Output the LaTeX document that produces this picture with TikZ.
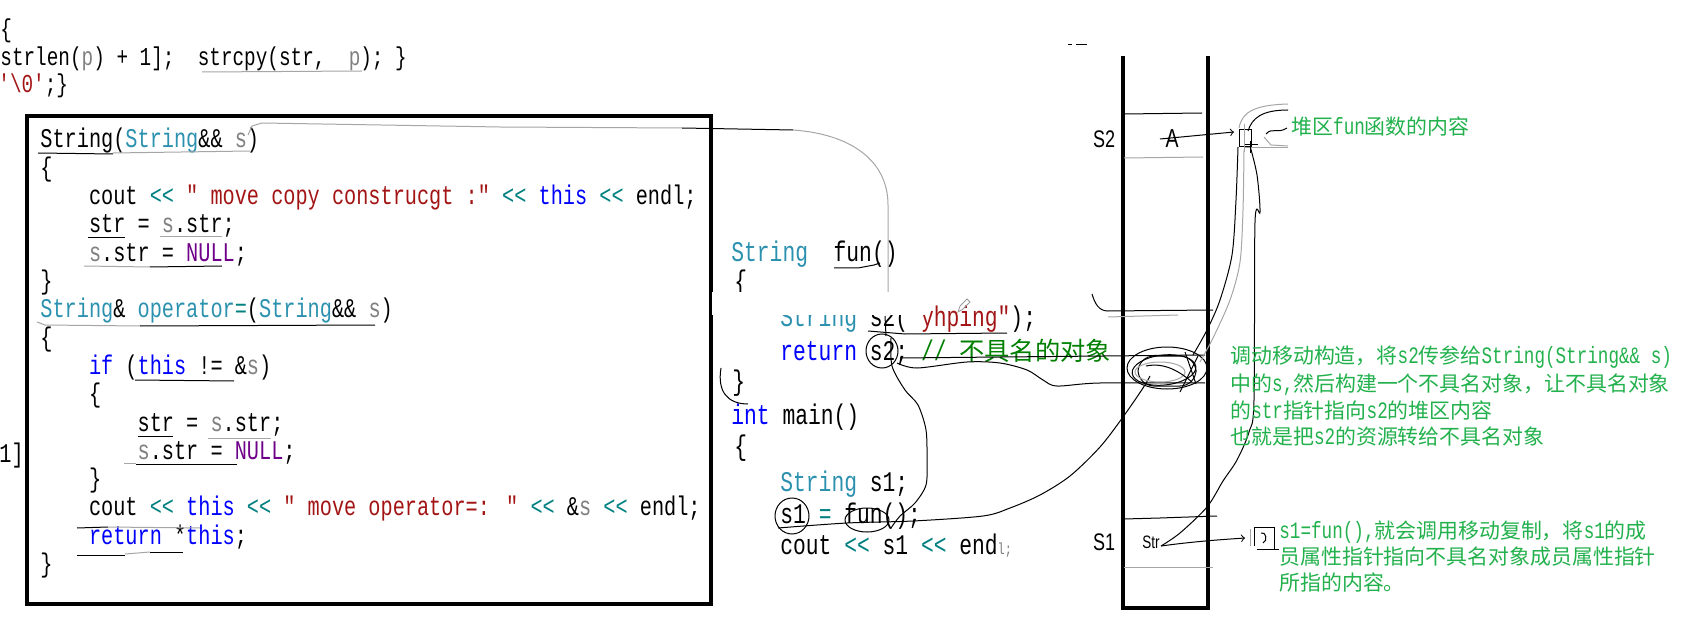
\documentclass[tikz,border=0pt]{standalone}
\usepackage{fontspec}
\usepackage{tikz}
\usetikzlibrary{calc}
\newfontfamily\codefont[FakeStretch=0.75]{Liberation Mono}
\newfontfamily\cjk[Scale=0.89]{Noto Sans CJK SC}
\newfontfamily\handfont[FakeStretch=0.75]{Liberation Sans}
\definecolor{typeclr}{RGB}{43,145,175}
\definecolor{kwclr}{RGB}{0,0,255}
\definecolor{strclr}{RGB}{163,21,21}
\definecolor{opclr}{RGB}{0,128,128}
\definecolor{parclr}{RGB}{128,128,128}
\definecolor{macclr}{RGB}{111,0,138}
\definecolor{cmtclr}{RGB}{0,128,0}
\definecolor{noteclr}{RGB}{34,177,76}
\newcommand\cType[1]{\textcolor{typeclr}{#1}}
\newcommand\cKw[1]{\textcolor{kwclr}{#1}}
\newcommand\cStr[1]{\textcolor{strclr}{#1}}
\newcommand\cOp[1]{\textcolor{opclr}{#1}}
\newcommand\cPar[1]{\textcolor{parclr}{#1}}
\newcommand\cMac[1]{\textcolor{macclr}{#1}}
\newcommand\cCmt[1]{\textcolor{cmtclr}{#1}}
\newcommand\zh[1]{{\cjk #1}}
\tikzset{
  codeline/.style={anchor=base west, inner sep=0pt, font=\codefont\fontsize{13.5}{13.5}\selectfont},
  midline/.style={codeline, font=\codefont\fontsize{14.2}{14.2}\selectfont},
  topline/.style={codeline, font=\codefont\fontsize{12.9}{12.9}\selectfont},
  noteline/.style={anchor=base west, inner sep=0pt, text=noteclr, font=\codefont\fontsize{11.75}{11.75}\selectfont},
  handlabel/.style={anchor=base, inner sep=0pt, font=\handfont\fontsize{12}{12}\selectfont},
  pen/.style={line width=0.5pt},
  pengray/.style={line width=0.5pt, draw=gray!70},
  wall/.style={line width=2pt}
}
\begin{document}
\begin{tikzpicture}[x=0.5pt, y=-0.5pt]
  \useasboundingbox (0,0) rectangle (1681,636);
  \fill[white] (0,0) rectangle (1681,636);
  \clip (0,0) rectangle (1681,636);

  % code fragment at the top left
  \node[topline] (fragOpen) at (0,38) {\{};
  \node[topline] (fragNew) at (0,66) {strlen(\cPar{p}) + 1];\ \ strcpy(str,\ \ \cPar{p}); \}};
  \node[topline] (fragEnd) at (-2,93) {\cStr{'\textbackslash 0'};\}};
  \node[codeline] (fragIdx) at (-1,462) {1]};
  \draw[pengray] (202,72) -- (362,71);

  % move constructor and move assignment
  \draw[line width=1.9pt] (27,116) rectangle (711,604);
  \node[codeline] (ctorHead) at (40,148) {String(\cType{String}\&\& \cPar{s})};
  \node[codeline] (ctorOpen) at (40,176.3) {\{};
  \node[codeline] (ctorCout) at (88.6,204.6) {cout \cOp{<<} \cStr{" move copy construcgt :"} \cOp{<<} \cKw{this} \cOp{<<} endl;};
  \node[codeline] (ctorAssign) at (88.6,232.9) {str = \cPar{s}.str;};
  \node[codeline] (ctorNull) at (88.6,261.2) {\cPar{s}.str = \cMac{NULL};};
  \node[codeline] (ctorClose) at (40,289.5) {\}};
  \node[codeline] (opHead) at (40,317.8) {\cType{String}\& \cType{operator}\cOp{=}(\cType{String}\&\& \cPar{s})};
  \node[codeline] (opOpen) at (40,346.1) {\{};
  \node[codeline] (opIf) at (88.6,374.4) {\cKw{if} (\cKw{this} != \&\cPar{s})};
  \node[codeline] (opIfOpen) at (88.6,402.7) {\{};
  \node[codeline] (opAssign) at (137.2,431) {str = \cPar{s}.str;};
  \node[codeline] (opNull) at (137.2,459.3) {\cPar{s}.str = \cMac{NULL};};
  \node[codeline] (opIfClose) at (88.6,487.6) {\}};
  \node[codeline] (opCout) at (88.6,515.9) {cout \cOp{<<} \cKw{this} \cOp{<<} \cStr{" move operator=: "} \cOp{<<} \&\cPar{s} \cOp{<<} endl;};
  \node[codeline] (opRet) at (88.6,544.2) {\cKw{return} *\cKw{this};};
  \node[codeline] (opClose) at (40,572.5) {\}};

  % pen marks under the code
  \draw[pen] (38,153) -- (113,154);
  \draw[pengray] (113,153) -- (250,151);
  \draw[pen] (88,238) -- (125,238);
  \draw[pengray] (160,237) -- (222,237);
  \draw[pengray] (84,266) -- (150,267);
  \draw[pen] (150,267) -- (222,266);
  \draw[pengray] (37,322) -- (45,325) -- (140,326);
  \draw[pen] (140,326) -- (375,325);
  \draw[pen] (135,380) -- (234,381);
  \draw[pen] (138,436) -- (173,436);
  \draw[pengray] (208,438) -- (271,438);
  \draw[pengray] (124,463) -- (136,463);
  \draw[pen] (136,464) -- (237,464);
  \draw[pen] (77,528) -- (108,527);
  \draw[pengray] (108,527) -- (200,528);
  \draw[pen] (77,555) -- (125,555);
  \draw[pengray] (125,554) -- (150,552);
  \draw[pen] (150,552) -- (183,552);

  % fun() and main()
  \node[midline] (funHead) at (731,262) {\cType{String}\ \ fun()};
  \node[midline] (funOpen) at (734,291) {\{};
  \node[midline] (funDecl) at (780,327) {\cType{String} s2(\cStr{"yhping"});};
  \node[midline] (funRet) at (780,360) {\cKw{return} s2; \cCmt{// \zh{不具名的对象}}};
  \node[midline] (funClose) at (732,390) {\}};
  \node[midline] (mainHead) at (731,424) {\cKw{int} main()};
  \node[midline] (mainOpen) at (734,455) {\{};
  \node[midline] (mainDecl) at (780,491) {\cType{String} s1;};
  \node[midline] (mainCall) at (780,523) {s1 \cOp{=} fun();};
  \node[midline] (mainCout) at (780,554) {cout \cOp{<<} s1 \cOp{<<} end{\fontsize{8}{8}\selectfont\color{gray}l;}};

  % line from the move constructor down to fun()
  \coordinate (ctorTip) at (248,135);
  \draw[pengray] (ctorTip) -- (252,126) -- (262,123) -- (500,127) -- (682,128);
  \draw[pen] (682,128) -- (793,130);
  \draw[pengray] (793,130) .. controls (850,134) and (888,160) .. (888,205) -- (888,300);
  \draw[pen] (834,268) -- (858,268) -- (874,265) -- (880,263);

  % white band over the screenshot
  \fill[white] (712,292) rectangle (930,315);
  \draw[gray!80, line width=0.4pt] (958,312) -- (960,306) -- (967,299) -- (970,302) -- (963,309) -- cycle;

  \draw[pen] (885,316) -- (886,336);
  \draw[pen] (868,331) -- (905,334) -- (1007,333);
  \draw[pen] (882,351) ellipse [x radius=16, y radius=17];
  \coordinate (funCall) at (891,528);
  \draw[pen] plot[smooth] coordinates {(891,338) (892,366) (905,390) (918,405) (926,430) (927,460) (926,485) (915,503) (900,516) (funCall)};
  \draw[pen] (721,368) .. controls (717,392) and (728,404) .. (748,404);
  \draw[pen] (792,516) ellipse [x radius=17, y radius=18];
  \draw[pen] (867,520) ellipse [x radius=22, y radius=12];

  % stack frame
  \draw[wall] (1123,56) -- (1123,608) -- (1208,608) -- (1208,56);
  \draw[pen] (1068,45) -- (1072,45) (1076,45) -- (1087,45);
  \draw[pen] (1124,114) -- (1202,113);
  \draw[pengray] (1124,158) -- (1203,157);
  \draw[pen] (1092,294) .. controls (1095,304) and (1099,311) .. (1108,311) -- (1213,310);
  \draw[pengray] (1108,317) -- (1178,315);
  \draw[pen] (1124,519) -- (1160,518) -- (1217,516);
  \draw[pengray] (1124,567) -- (1213,567);

  % unnamed object scribble
  \coordinate (retTail) at (900,358);
  \coordinate (stackMid) at (1205,355);
  \coordinate (stackLow) at (1205,383);
  \draw[pen] (retTail) -- (stackMid);
  \draw[pen] plot[smooth] coordinates {(897,363) (917,368) (967,362) (1000,363) (1027,370) (1043,380) (1057,386) (1100,383) (stackLow)};
  \draw[pen] plot[smooth] coordinates {(778,528) (847,523) (913,521) (983,516) (1010,508) (1040,495) (1070,476) (1100,447) (1123,417) (1143,388) (1150,376)};
  \draw[pen] (1167,368) ellipse [x radius=40, y radius=21];
  \draw[pen, rotate around={6:(1164,370)}] (1164,370) ellipse [x radius=32, y radius=15];
  \draw[pen, rounded corners=8pt] (1138,356) rectangle (1196,386);
  \draw[pengray] (1160,372) ellipse [x radius=25, y radius=10];
  \draw[pen] (1146,366) .. controls (1165,362) and (1180,372) .. (1192,382);
  \draw[pen] (1185,352) -- (1196,384) (1198,356) -- (1180,392);

  % s2 row and heap content
  \node[handlabel] (labS2) at (1104,148) {S2};
  \node[handlabel, font=\handfont\fontsize{13}{13}\selectfont] (labA) at (1172,148) {A};
  \coordinate (aTail) at (1160,139);
  \coordinate (heapBox) at (1234,132);
  \draw[pen,->] (aTail) -- (heapBox);
  \draw[pen] (1239,130) rectangle (1251,147);
  \draw[pengray] (1244,124) -- (1244,152);
  \draw[pen] (1245,145) -- (1258,145) (1250,141) -- (1250,153);
  \draw[pengray] (1239,128) .. controls (1242,112) and (1254,105) .. (1288,104);
  \draw[pen] (1248,131) .. controls (1252,118) and (1262,110) .. (1288,110);
  \draw[pen] (1266,134) .. controls (1272,127) and (1278,134) .. (1287,128);
  \draw[pengray] (1264,137) -- (1271,145) -- (1288,146);
  \draw[pengray] (1245,148) -- (1288,148);
  \node[noteline] (heapNote) at (1291,135) {\zh{堆区}fun\zh{函数的内容}};
  \draw[pen] plot[smooth] coordinates {(1238,147) (1236,200) (1232,255) (1220,300) (1207,330) (1193,355)};
  \draw[pengray] plot[smooth] coordinates {(1244,150) (1243,210) (1240,262) (1230,300) (1213,338) (1200,362)};

  % s1 row
  \node[handlabel] (labS1) at (1104,550) {S1};
  \node[handlabel, font=\handfont\fontsize{9}{9}\selectfont] (labStr) at (1151,548) {Str};
  \coordinate (strTail) at (1161,546);
  \coordinate (strHead) at (1245,538);
  \draw[pen,->] (strTail) .. controls (1190,542) and (1215,540) .. (strHead);
  \draw[pen] plot[smooth] coordinates {(1250,146) (1257,175) (1260,212) (1255,222) (1254,400) (1249,432) (1237,460) (1223,481) (1207,507) (1180,533) (strTail)};
  \draw[pengray] (1250,529) -- (1250,546);
  \draw[pen] (1254,527) -- (1254,546) (1255,527) -- (1274,527) -- (1274,549) (1257,549) -- (1279,549);
  \draw[pen] (1261,533) .. controls (1266,531) and (1268,541) .. (1263,543);

  % notes
  \node[noteline] (noteA1) at (1230,364) {\zh{调动移动构造，将}s2\zh{传参给}String(String\&\& s)};
  \node[noteline] (noteA2) at (1230,391) {\zh{中的}s,\zh{然后构建一个不具名对象，让不具名对象}};
  \node[noteline] (noteA3) at (1230,418) {\zh{的}str\zh{指针指向}s2\zh{的堆区内容}};
  \node[noteline] (noteA4) at (1230,444) {\zh{也就是把}s2\zh{的资源转给不具名对象}};
  \node[noteline] (noteB1) at (1279,538) {s1=fun(),\zh{就会调用移动复制，将}s1\zh{的成}};
  \node[noteline] (noteB2) at (1279,564) {\zh{员属性指针指向不具名对象成员属性指针}};
  \node[noteline] (noteB3) at (1279,590) {\zh{所指的内容。}};
\end{tikzpicture}
\end{document}
